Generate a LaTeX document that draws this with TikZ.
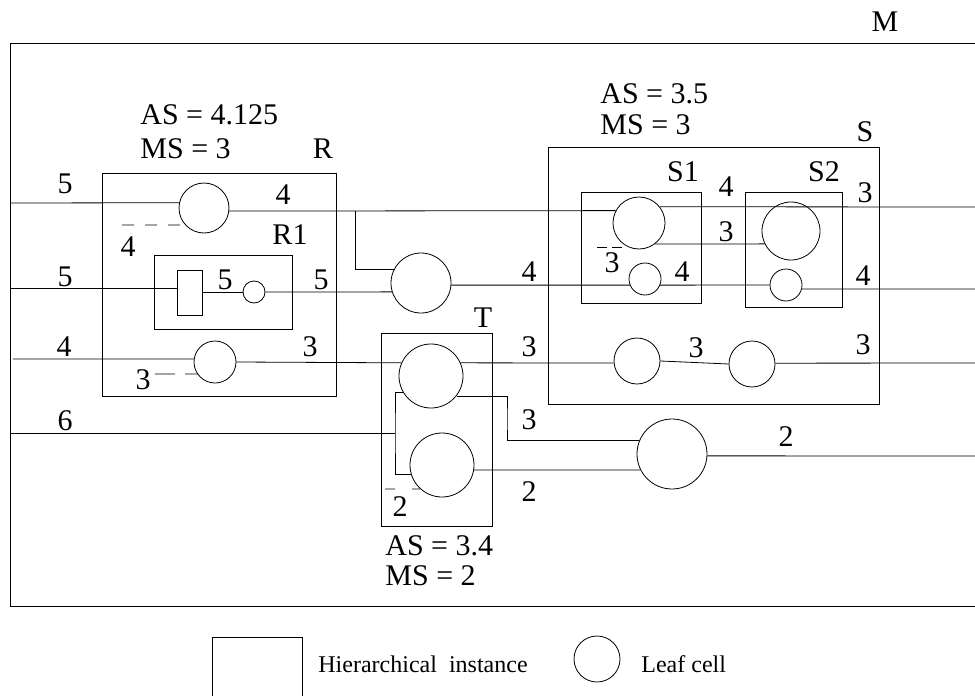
\documentclass[tikz,border=0pt]{standalone}
\usepackage{fontspec}
\setmainfont{Liberation Serif}
\newcommand\mainsz{\fontsize{30}{32}\selectfont}
\newcommand\legsz{\fontsize{24}{26}\selectfont}
\tikzset{
  leaf/.style={circle, draw, inner sep=0pt},
  hier/.style={rectangle, draw, inner sep=0pt},
  lbl/.style={inner sep=0pt, font=\mainsz},
  lblw/.style={inner sep=0pt, font=\mainsz, anchor=base west},
  leg/.style={inner sep=0pt, font=\legsz, anchor=west},
  dmark/.style={dash pattern=on 12pt off 11pt},
}
\begin{document}
\begin{tikzpicture}[x=1pt,y=-1pt,line width=0.8pt]
\useasboundingbox (0,0) rectangle (975,696);
% outer instance M
\coordinate (mTR) at (975,43); \coordinate (mTL) at (10,43);
\coordinate (mBL) at (10,606); \coordinate (mBR) at (975,606);
\draw (mTR) -- (mTL) -- (mBL) -- (mBR);
\node[lbl] (lM) at (885,22) {M};

% hierarchical instances
\node[hier, minimum width=234pt, minimum height=223pt] (R) at (219,284.5) {};
\node[hier, minimum width=138pt, minimum height=74pt] (R1) at (223,292) {};
\node[hier, minimum width=25pt, minimum height=45pt] (sr) at (189.5,292.5) {};
\node[hier, minimum width=111pt, minimum height=193pt] (T) at (436.5,429.5) {};
\node[hier, minimum width=331pt, minimum height=257pt] (S) at (713.5,275.5) {};
\node[hier, minimum width=120pt, minimum height=111pt] (S1) at (641,247.5) {};
\node[hier, minimum width=97pt, minimum height=115pt] (S2) at (793.5,249.5) {};

% leaf cells
\node[leaf, minimum size=50pt] (cRa) at (204,208) {};
\node[leaf, minimum size=22pt] (cR1) at (254,292) {};
\node[leaf, minimum size=42pt] (cRb) at (215,362) {};
\node[leaf, minimum size=60pt] (cMid) at (421,283) {};
\node[leaf, minimum size=64pt] (cTa) at (431,376) {};
\node[leaf, minimum size=64pt] (cTb) at (442,465) {};
\node[leaf, minimum size=70pt] (cBig) at (672,454) {};
\node[leaf, minimum size=52pt] (cS1a) at (639,223) {};
\node[leaf, minimum size=32pt] (cS1b) at (645,279) {};
\node[leaf, minimum size=58pt] (cS2a) at (791,231) {};
\node[leaf, minimum size=32pt] (cS2b) at (786,285) {};
\node[leaf, minimum size=46pt] (cSc) at (637,361) {};
\node[leaf, minimum size=46pt] (cSd) at (752,364) {};

% free ends
\coordinate (in1) at (10,203);
\coordinate (in2) at (10,288);
\coordinate (in3) at (13,359);
\coordinate (in4) at (10,433);
\coordinate (out1) at (975,207);
\coordinate (out2) at (975,289);
\coordinate (out3) at (975,363);
\coordinate (out4) at (975,456);
\coordinate (J1) at (355,211);
\coordinate (J2) at (395,433);
\coordinate (J3) at (507,420);
\coordinate (d1) at (122,225);
\coordinate (d2) at (155,374);
\coordinate (d3) at (385,489);
\coordinate (d4a) at (597,247);
\coordinate (d4b) at (622,247);

% wires
\draw (in1) -- (cRa.168.5);
\draw (cRa.-7) -- (cS1a.152.5);
\draw (J1) |- (cMid.154.3);
\draw (in2) -- (in2 -| sr.west);
\draw (cR1 -| sr.east) -- (cR1.west);
\draw (cR1.east) -- (cMid.197.5);
\draw (cMid.-4) -- (cS1b.202);
\draw (cS1a.38) -- (out1);
\draw (cS1a.-53.9) -- (cS2a.206.6);
\draw (cS1b.-22) -- (cS2b.west);
\draw (cS2b.-14.5) -- (out2);
\draw (in3) -- (cRb.172);
\draw (cRb.east) -- (cTa.156);
\draw (cTa.24) -- (cSc.185);
\draw (cSc.east) -- (cSd.west);
\draw (cSd.2.5) -- (out3);
\draw (in4) -- (J2);
\draw (cTa.210) -| (J2) |- (cTb.196.3);
\draw (cTa.-38.7) -| (J3) |- (cBig.158.2);
\draw (cTb.-9) -- (cBig.207.2);
\draw (cBig.-3) -- (out4);

% dashed marks
\draw[dmark] (d1) -- (cRa.222.8);
\draw[dash pattern=on 20pt off 10pt] (d2) -- (cRb.214.8);
\draw[dash pattern=on 10pt off 17pt] (d3) -- (cTb.228.6);
\draw[dash pattern=on 10pt off 5pt] (d4a) -- (d4b);

% labels on R
\node[lblw] (asR) at (140,124) {AS = 4.125};
\node[lblw] (msR) at (140,158) {MS = 3};
\node[lbl, anchor=base] (lR) at (323,158) {R};
\node[lbl] (lR1) at (290,235) {R1};
\node[lbl] (n1) at (65,184) {5};
\node[lbl] (n2) at (283,195) {4};
\node[lbl] (n3) at (128,247) {4};
\node[lbl] (n4) at (65,277) {5};
\node[lbl] (n5) at (225,280) {5};
\node[lbl] (n6) at (321,280) {5};
\node[lbl] (n7) at (64,347) {4};
\node[lbl] (n8) at (310,347) {3};
\node[lbl] (n9) at (143,380) {3};
\node[lbl] (n10) at (65,421) {6};
% middle / T
\node[lbl] (n11) at (529,272) {4};
\node[lbl] (lT) at (483,318) {T};
\node[lbl] (n12) at (529,347) {3};
\node[lbl] (n13) at (529,420) {3};
\node[lbl] (n14) at (529,492) {2};
\node[lbl] (n15) at (400,507) {2};
\node[lblw] (asT) at (385,555) {AS = 3.4};
\node[lblw] (msT) at (385,585) {MS = 2};
\node[lbl] (n16) at (786,437) {2};
% S
\node[lblw] (asS) at (600,103) {AS = 3.5};
\node[lblw] (msS) at (600,134) {MS = 3};
\node[lbl, anchor=base] (lS) at (865,141) {S};
\node[lbl] (lS1) at (683,172) {S1};
\node[lbl] (lS2) at (824,172) {S2};
\node[lbl] (n17) at (726,187) {4};
\node[lbl] (n18) at (865,193) {3};
\node[lbl] (n19) at (726,232) {3};
\node[lbl] (n20) at (612,263) {3};
\node[lbl] (n21) at (682,272) {4};
\node[lbl] (n22) at (863,276) {4};
\node[lbl] (n23) at (696,348) {3};
\node[lbl] (n24) at (863,345) {3};

% legend
\node[hier, minimum width=90pt, minimum height=80pt] (legH) at (257,677) {};
\node[leg] (legHt) at (318,664) {Hierarchical\ \ instance};
\node[leaf, minimum size=46pt] (legC) at (597,659) {};
\node[leg] (legCt) at (641,664) {Leaf cell};
\end{tikzpicture}
\end{document}
